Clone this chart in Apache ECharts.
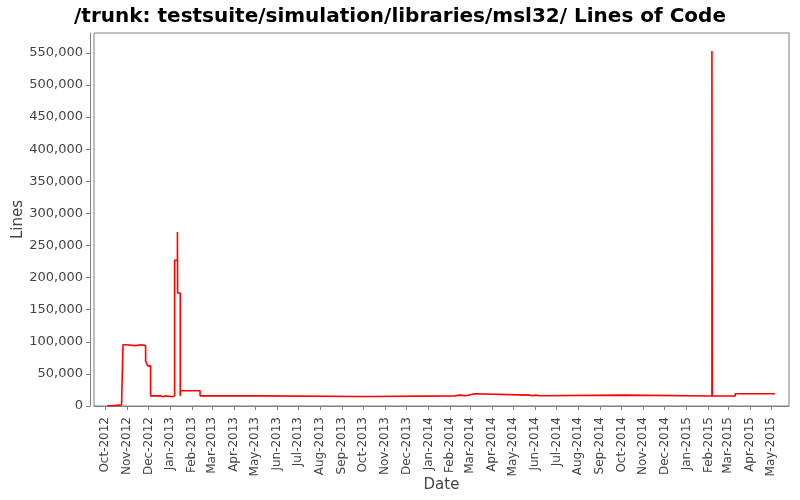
<!DOCTYPE html>
<html>
<head>
<meta charset="utf-8">
<script src="https://cdn.jsdelivr.net/npm/echarts@6/dist/echarts.min.js"></script>
<style>html,body{margin:0;padding:0;background:#fff}#c{width:800px;height:500px}</style>
</head>
<body>
<div id="c"></div>
<script>
var titleText = '/trunk: testsuite/simulation/libraries/msl32/ Lines of Code';
var dates = [
  '2012-10-04','2012-10-10','2012-10-24','2012-10-26','2012-10-29','2012-11-13','2012-11-20',
  '2012-11-27','2012-11-28','2012-11-30','2012-12-04','2012-12-19','2012-12-22','2012-12-25',
  '2013-01-04','2013-01-07','2013-01-11','2013-01-11T06:00','2013-01-15','2013-01-15T06:00',
  '2013-02-12','2013-05-07','2013-09-27','2013-09-29','2013-10-11','2014-02-08','2014-02-14',
  '2014-02-23','2014-03-07','2014-05-24','2014-05-28','2014-06-02','2014-06-07','2014-10-05',
  '2015-02-06','2015-02-06T12:00','2015-03-11','2015-05-06'
];
var lines = [
  300, 1800, 4500, 95500, 94000, 95500, 94000,
  70500, 67000, 62500, 15800, 14300, 15800, 14300,
  15800, 227000, 271000, 176000, 15800, 23700,
  15800, 14800, 15800, 14800, 15800, 16900, 15900,
  19000, 16900, 15900, 16900, 15900, 16900, 15500,
  553000, 15500, 19000, 19000
];
var monthTicks = [
  '2012-10-01','2012-11-01','2012-12-01','2013-01-01','2013-02-01','2013-03-01','2013-04-01',
  '2013-05-01','2013-06-01','2013-07-01','2013-08-01','2013-09-01','2013-10-01','2013-11-01',
  '2013-12-01','2014-01-01','2014-02-01','2014-03-01','2014-04-01','2014-05-01','2014-06-01',
  '2014-07-01','2014-08-01','2014-09-01','2014-10-01','2014-11-01','2014-12-01','2015-01-01',
  '2015-02-01','2015-03-01','2015-04-01','2015-05-01'
];
var monthNames = ['Jan','Feb','Mar','Apr','May','Jun','Jul','Aug','Sep','Oct','Nov','Dec'];

function toUTC(s) {
  var p = s.split('T');
  var d = p[0].split('-');
  var h = 0;
  if (p[1]) h = parseInt(p[1].split(':')[0], 10);
  return Date.UTC(+d[0], +d[1] - 1, +d[2], h);
}
// step-after series: hold each value until the next date
var seriesData = [];
dates.forEach(function (d, i) {
  var t = toUTC(d);
  if (i > 0) seriesData.push([t, lines[i - 1]]);
  seriesData.push([t, lines[i]]);
});
var tickValues = monthTicks.map(toUTC);

var chart = echarts.init(document.getElementById('c'), null, {renderer: 'canvas'});
var font = 'DejaVu Sans';
chart.setOption({
  animation: false,
  backgroundColor: '#ffffff',
  title: {
    text: titleText,
    left: 'center',
    top: 2,
    textStyle: {fontFamily: font, fontSize: 20, fontWeight: 'bold', color: '#000'}
  },
  grid: {
    left: 94, right: 11, top: 33, bottom: 94,
    outerBoundsMode: 'none',
    containLabel: false,
    show: true, borderColor: '#808080', borderWidth: 1, backgroundColor: '#ffffff'
  },
  xAxis: {
    type: 'value',
    min: toUTC('2012-09-15'),
    max: toUTC('2015-05-26'),
    offset: 4,
    name: 'Date',
    nameLocation: 'middle',
    nameGap: 68,
    nameMoveOverlap: false,
    nameTextStyle: {fontFamily: font, fontSize: 15, color: '#444'},
    axisLine: {show: true, lineStyle: {color: '#808080', width: 1}},
    axisTick: {show: true, length: 4, lineStyle: {color: '#808080'}, customValues: tickValues},
    axisLabel: {
      customValues: tickValues,
      rotate: 90,
      margin: 7,
      fontFamily: font,
      fontSize: 12,
      color: '#444',
      hideOverlap: false,
      formatter: function (v) {
        var d = new Date(v);
        return monthNames[d.getUTCMonth()] + '-' + d.getUTCFullYear();
      }
    },
    splitLine: {show: false}
  },
  yAxis: {
    type: 'value',
    min: 0,
    max: 581000,
    interval: 50000,
    offset: 4,
    name: 'Lines',
    nameLocation: 'middle',
    nameGap: 64,
    nameMoveOverlap: false,
    nameTextStyle: {fontFamily: font, fontSize: 15, color: '#444'},
    axisLine: {show: true, lineStyle: {color: '#808080', width: 1}},
    axisTick: {show: true, length: 4, lineStyle: {color: '#808080'}},
    axisLabel: {
      margin: 7,
      fontFamily: font,
      fontSize: 13,
      color: '#444',
      showMaxLabel: false,
      formatter: function (v) { return v.toLocaleString('en-US'); }
    },
    splitLine: {show: false}
  },
  series: [{
    type: 'line',
    data: seriesData,
    showSymbol: false,
    symbol: 'none',
    lineStyle: {color: '#ff0000', width: 1.6},
    itemStyle: {color: '#ff0000'}
  }]
});
</script>
</body>
</html>
